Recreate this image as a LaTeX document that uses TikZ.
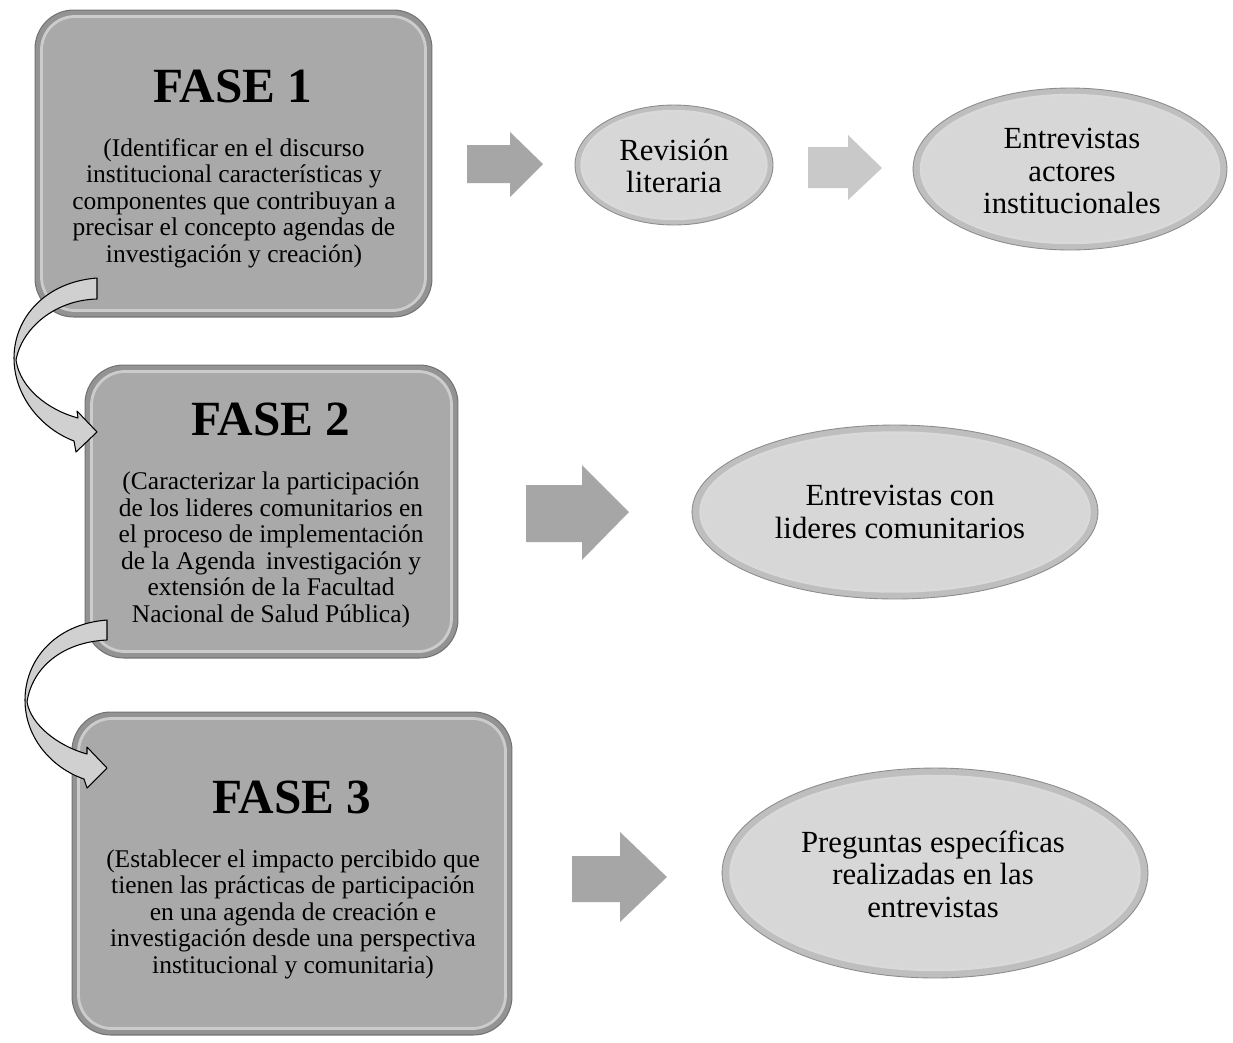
\documentclass[tikz,border=0pt]{standalone}
\usepackage{fontspec}
\setmainfont{Liberation Serif}
\usetikzlibrary{shapes.geometric}
\definecolor{boxring}{HTML}{939393}
\definecolor{boxfill}{HTML}{A9A9A9}
\definecolor{ellring}{HTML}{BEBEBE}
\definecolor{ellfill}{HTML}{D7D7D7}
\definecolor{arrdark}{HTML}{A6A6A6}
\definecolor{arrlight}{HTML}{C9C9C9}
\definecolor{curvefill}{HTML}{D0D0D0}
\tikzset{
  faseouter/.style={draw=black!55, fill=boxring, rounded corners=22pt, line width=0.6pt, inner sep=0pt},
  faseinner/.style={draw=white!80!black, line width=1.6pt, fill=boxfill, rounded corners=19pt},
  fasetitle/.style={font=\fontsize{28pt}{30pt}\selectfont\bfseries, inner sep=0pt, anchor=base},
  fasebody/.style={font=\fontsize{14.5pt}{15.1pt}\selectfont, inner sep=0pt, align=center},
  ellouter/.style={ellipse, draw=black!45, fill=ellring, line width=0.5pt, inner sep=0pt},
  ellinner/.style={ellipse, draw=white!85!black, fill=ellfill, line width=1.4pt, inner sep=0pt},
  elltext/.style={font=\fontsize{17.5pt}{18.4pt}\selectfont, inner sep=0pt, align=center},
  blockdark/.style={fill=arrdark},
  blocklight/.style={fill=arrlight},
  curvearrow/.style={fill=curvefill, draw=black, line width=0.6pt, line join=round},
}
\begin{document}
\begin{tikzpicture}[x=0.02cm, y=-0.02cm]
\useasboundingbox (0,0) rectangle (1233,1042);
\fill[white] (0,0) rectangle (1233,1042);

% ---------- phase boxes ----------
\node[faseouter, minimum width=7.94cm, minimum height=6.14cm] (f1) at (233.5,163.5) {};
\draw[faseinner] ([shift={(7,7)}]f1.north west) rectangle ([shift={(-7,-7)}]f1.south east);
\node[fasetitle] (f1t) at (233,102) {FASE 1};
\node[fasebody] (f1b) at (234,203) {(Identificar en el discurso\\institucional características y\\componentes que contribuyan a\\precisar el concepto agendas de\\investigación y creación)};

\node[faseouter, minimum width=7.46cm, minimum height=5.86cm] (f2) at (271.5,511.5) {};
\draw[faseinner] ([shift={(7,7)}]f2.north west) rectangle ([shift={(-7,-7)}]f2.south east);
\node[fasetitle] (f2t) at (271,435) {FASE 2};
\node[fasebody] (f2b) at (271,550) {(Caracterizar la participación\\de los lideres comunitarios en\\el proceso de implementación\\de la Agenda\, investigación y\\extensión de la Facultad\\Nacional de Salud Pública)};

\node[faseouter, minimum width=8.8cm, minimum height=6.46cm] (f3) at (292,873.5) {};
\draw[faseinner] ([shift={(7,7)}]f3.north west) rectangle ([shift={(-7,-7)}]f3.south east);
\node[fasetitle] (f3t) at (292,813) {FASE 3};
\node[fasebody] (f3b) at (293,914) {(Establecer el impacto percibido que\\tienen las prácticas de participación\\en una agenda de creación e\\investigación desde una perspectiva\\institucional y comunitaria)};

% ---------- ellipses ----------
\node[ellouter, minimum width=3.96cm, minimum height=2.4cm] (e1) at (674,165) {};
\node[ellinner, minimum width=3.7cm, minimum height=2.16cm] (e1i) at (e1.center) {};
\node[elltext] (e1t) at (674,166) {Revisión\\literaria};

\node[ellouter, minimum width=6.28cm, minimum height=3.24cm] (e2) at (1070,169) {};
\node[ellinner, minimum width=5.96cm, minimum height=2.96cm] (e2i) at (e2.center) {};
\node[elltext] (e2t) at (1072,171) {Entrevistas\\actores\\institucionales};

\node[ellouter, minimum width=8.12cm, minimum height=3.48cm] (e3) at (895,512) {};
\node[ellinner, minimum width=7.78cm, minimum height=3.18cm] (e3i) at (e3.center) {};
\node[elltext] (e3t) at (900,512) {Entrevistas con\\lideres comunitarios};

\node[ellouter, minimum width=8.52cm, minimum height=4.2cm] (e4) at (935,873) {};
\node[ellinner, minimum width=8.18cm, minimum height=3.88cm] (e4i) at (e4.center) {};
\node[elltext] (e4t) at (933,874) {Preguntas específicas\\realizadas en las\\entrevistas};

% ---------- block arrows ----------
\fill[blockdark] (467,145) -- (510,145) -- (510,132) -- (543,164) -- (510,197) -- (510,183) -- (467,183) -- cycle;
\fill[blocklight] (808,147) -- (848,147) -- (848,135) -- (882,168) -- (848,200) -- (848,188) -- (808,188) -- cycle;
\fill[blockdark] (526,485) -- (582,485) -- (582,465) -- (629,512) -- (582,560) -- (582,542) -- (526,542) -- cycle;
\fill[blockdark] (572,856) -- (620,856) -- (620,832) -- (667,877) -- (620,922) -- (620,902) -- (572,902) -- cycle;

% ---------- curved arrows ----------
\draw[curvearrow] (97,278) .. controls (45,282) and (14,318) .. (14,358)
  .. controls (14,395) and (40,428) .. (74,441) -- (76,452) -- (97,432) -- (77,411) -- (78,418)
  .. controls (48,410) and (20,388) .. (16,360)
  .. controls (22,328) and (55,300) .. (97,299) -- cycle;
\draw[curvearrow] (107,620) .. controls (55,624) and (25,660) .. (25,700)
  .. controls (25,738) and (52,768) .. (84,779) -- (87,788) -- (107,768) -- (87,747) -- (87,754)
  .. controls (58,746) and (31,725) .. (27,702)
  .. controls (32,668) and (62,642) .. (107,640) -- cycle;
\end{tikzpicture}
\end{document}
